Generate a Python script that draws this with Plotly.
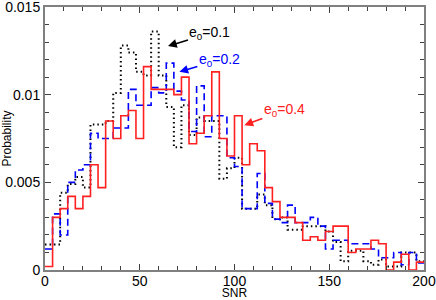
import plotly.graph_objects as go

# ---- data ----
bin_width = 4
snr_start = 0

# e0 = 0.1 (black dotted)
prob_e01 = [0.00145, 0.00145, 0.0044, 0.0049, 0.0053, 0.0047, 0.0083, 0.0083, 0.0085, 0.0101,
            0.0128, 0.0124, 0.0113, 0.0111, 0.0136, 0.0111, 0.0093, 0.0070, 0.0094, 0.0077,
            0.0087, 0.0085, 0.0085, 0.0052, 0.0058, 0.0064, 0.0035, 0.0035, 0.0043, 0.0037,
            0.0029, 0.0030, 0.0023, 0.0023, 0.0025, 0.0025, 0.0025, 0.0022, 0.0016, 0.0005,
            0.0011, 0.0011, 0.0005, 0.0003, 0.0006, 0.0002, 0.0002, 0.0010, 0.0010, 0.0005]

# e0 = 0.2 (blue dashed)
prob_e02 = [0.0012, 0.0032, 0.0020, 0.0050, 0.0057, 0.0060, 0.0078, 0.0075, 0.0075, 0.0081,
            0.0081, 0.0103, 0.0094, 0.0094, 0.0104, 0.0101, 0.0118, 0.0102, 0.0097, 0.0079,
            0.0105, 0.0076, 0.0088, 0.0088, 0.0064, 0.0059, 0.0035, 0.0035, 0.0055, 0.0038,
            0.0029, 0.0027, 0.0037, 0.0027, 0.0027, 0.0030, 0.0025, 0.0012, 0.0017, 0.0017,
            0.0015, 0.0015, 0.0015, 0.0012, 0.0007, 0.0007, 0.0010, 0.0003, 0.0010, 0.0004]

# e0 = 0.4 (red solid)
prob_e04 = [0.0002, 0.0030, 0.0035, 0.0042, 0.0035, 0.0042, 0.0060, 0.0047, 0.0085, 0.0075,
            0.0088, 0.0091, 0.0075, 0.0116, 0.0103, 0.0103, 0.0103, 0.0100, 0.0110, 0.0072,
            0.0078, 0.0088, 0.0113, 0.0075, 0.0065, 0.0088, 0.0060, 0.0072, 0.0068, 0.0047,
            0.0039, 0.0030, 0.0030, 0.0027, 0.0017, 0.0019, 0.0017, 0.0022, 0.0025, 0.0025,
            0.0010, 0.0012, 0.0012, 0.0017, 0.0015, 0.0000, 0.00045, 0.0009, 0.0000, 0.00045]

x_tick_vals = [0, 50, 100, 150, 200]
y_tick_vals = [0, 0.005, 0.01, 0.015]
y_tick_text = ["0", "0.005", "0.01", "0.015"]

labels = ["e<sub>0</sub>=0.1", "e<sub>0</sub>=0.2", "e<sub>0</sub>=0.4"]

# ---- figure ----
edges = [snr_start + bin_width * i for i in range(len(prob_e04) + 1)]

def steps(vals):
    return list(vals) + [vals[-1]]

series = [
    (prob_e01, "black", "1.5px,3px", 2.0),
    (prob_e02, "#0000ff", "7px,4px", 1.6),
    (prob_e04, "#ff2020", "solid", 1.6),
]

fig = go.Figure()
for vals, col, dash, w in series:
    fig.add_trace(go.Scatter(
        x=edges, y=steps(vals), mode="lines", line_shape="hv",
        line=dict(color=col, width=w, dash=dash), showlegend=False,
        hoverinfo="skip"))

font = "Liberation Sans, Arial, Helvetica, sans-serif"

# annotations (arrow head position in data coords, text offset in px)
ann = [
    (labels[0], "black", 64.9, 0.01277, 42, -13),
    (labels[1], "#0000ff", 70.9, 0.0113, 40, -12),
    (labels[2], "#ff2020", 105.2, 0.00826, 40, -15),
]
for txt, col, hx, hy, ax, ay in ann:
    fig.add_annotation(x=hx, y=hy, xref="x", yref="y", text=txt, showarrow=True,
                       ax=ax, ay=ay, arrowhead=2, arrowsize=1.1, arrowwidth=1.6,
                       arrowcolor=col, font=dict(color=col, size=14, family=font),
                       standoff=0)

axis_common = dict(
    showgrid=False, zeroline=False, showline=True, linecolor="#808080", linewidth=2,
    mirror="allticks", ticks="inside", ticklen=6, tickwidth=1, tickcolor="#404040",
    tickfont=dict(size=14, family=font, color="black"),
    automargin=False, ticklabeloverflow="allow",
)

fig.update_xaxes(range=[0, 200], tickvals=x_tick_vals, ticklabelstandoff=-3,
                 minor=dict(dtick=10, ticks="inside", ticklen=4, tickcolor="#404040"),
                 title=dict(text="SNR", font=dict(size=12, family=font, color="black"), standoff=1),
                 **axis_common)
fig.update_yaxes(range=[0, 0.015], tickvals=y_tick_vals, ticktext=y_tick_text,
                 minor=dict(dtick=0.001, ticks="inside", ticklen=4, tickcolor="#404040"),
                 title=dict(text="Probability", font=dict(size=12, family=font, color="black"), standoff=0),
                 **axis_common)

fig.update_layout(
    width=436, height=300,
    margin=dict(l=45, r=12, t=7, b=30),
    paper_bgcolor="white", plot_bgcolor="white",
    font=dict(family=font),
)

fig.write_html("out.html", config={"displayModeBar": False, "staticPlot": True},
               post_script="document.body.style.margin='0';")
